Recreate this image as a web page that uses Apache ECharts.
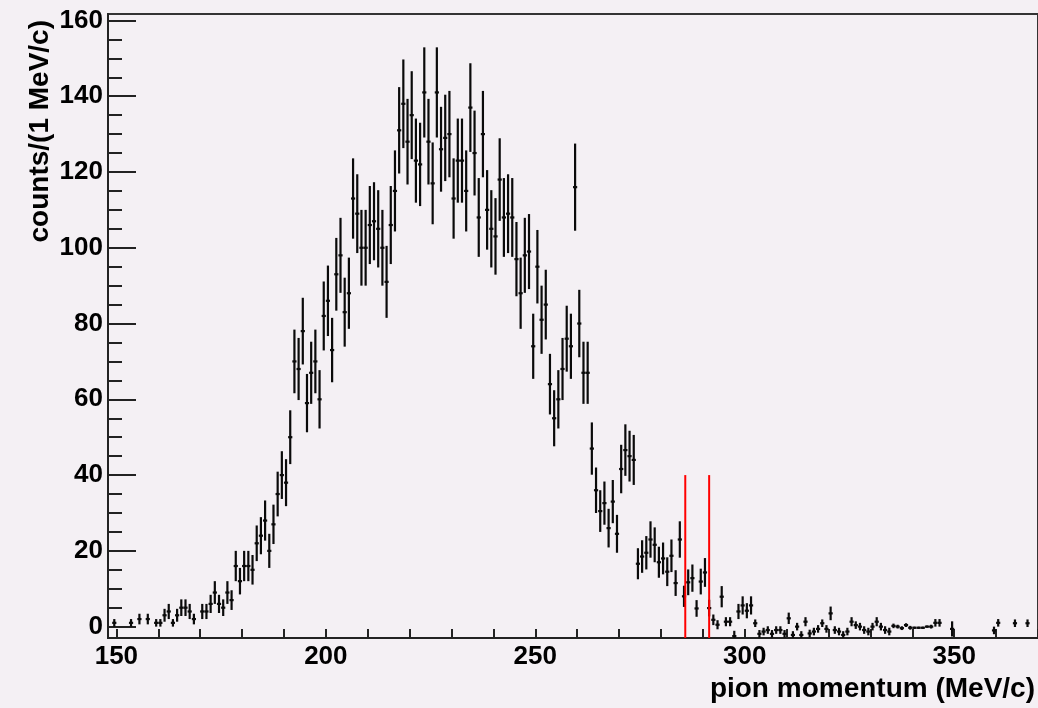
<!DOCTYPE html>
<html>
<head>
<meta charset="utf-8">
<script src="https://cdn.jsdelivr.net/npm/echarts@6/dist/echarts.min.js"></script>
<style>
  html, body { margin: 0; padding: 0; background: #f4f0f4; }
  #chart { width: 1038px; height: 708px; }
</style>
</head>
<body>
<div id="chart"></div>
<script>
// Pion momentum spectrum, 1 MeV/c bins (bin centres), counts and errors per bin
const momentum = [
  149.5, 153.5, 155.5, 157.5, 159.5, 160.5, 161.5, 162.5, 163.5, 164.5,
  165.5, 166.5, 167.5, 168.5, 170.5, 171.5, 172.5, 173.5, 174.5, 175.5,
  176.5, 177.5, 178.5, 179.5, 180.5, 181.5, 182.5, 183.5, 184.5, 185.5,
  186.5, 187.5, 188.5, 189.5, 190.5, 191.5, 192.5, 193.5, 194.5, 195.5,
  196.5, 197.5, 198.5, 199.5, 200.5, 201.5, 202.5, 203.5, 204.5, 205.5,
  206.5, 207.5, 208.5, 209.5, 210.5, 211.5, 212.5, 213.5, 214.5, 215.5,
  216.5, 217.5, 218.5, 219.5, 220.5, 221.5, 222.5, 223.5, 224.5, 225.5,
  226.5, 227.5, 228.5, 229.5, 230.5, 231.5, 232.5, 233.5, 234.5, 235.5,
  236.5, 237.5, 238.5, 239.5, 240.5, 241.5, 242.5, 243.5, 244.5, 245.5,
  246.5, 247.5, 248.5, 249.5, 250.5, 251.5, 252.5, 253.5, 254.5, 255.5,
  256.5, 257.5, 258.5, 259.5, 260.5, 261.5, 262.5, 263.5, 264.5, 265.5,
  266.5, 267.5, 268.5, 269.5, 270.5, 271.5, 272.5, 273.5, 274.5, 275.5,
  276.5, 277.5, 278.5, 279.5, 280.5, 281.5, 282.5, 283.5, 284.5, 285.5,
  286.5, 287.5, 288.5, 289.5, 290.5, 291.5, 292.5, 293.5, 294.5, 295.5,
  296.5, 297.5, 298.5, 299.5, 300.5, 301.5, 302.5, 303.5, 304.5, 305.5,
  306.5, 307.5, 308.5, 309.5, 310.5, 311.5, 312.5, 313.5, 314.5, 315.5,
  316.5, 317.5, 318.5, 319.5, 320.5, 321.5, 322.5, 323.5, 324.5, 325.5,
  326.5, 327.5, 328.5, 329.5, 330.5, 331.5, 332.5, 333.5, 334.5, 335.5,
  336.5, 337.5, 338.5, 339.5, 340.5, 341.5, 342.5, 343.5, 344.5, 345.5,
  346.5, 349.5, 359.5, 360.5, 364.5, 367.5
];

const counts = [
  1, 1, 2, 2, 1, 1, 3, 4, 1, 3,
  5, 5, 4, 2, 4, 4, 6, 9, 6, 5,
  9, 7, 16, 12, 16, 16, 15, 22, 24, 28,
  20, 27, 35, 40, 38, 50, 70, 68, 78, 59,
  67, 70, 60, 82, 86, 73, 93, 98, 83, 88,
  113, 109, 100, 100, 106, 107, 105, 100, 91, 106,
  115, 131, 138, 128, 135, 123, 122, 141, 128, 117,
  141, 126, 129, 130, 113, 123, 123, 115, 137, 125,
  108, 130, 110, 105, 103, 118, 108, 109, 108, 97,
  88, 98, 99, 74, 95, 81, 85, 64, 55, 60,
  68, 76, 74, 116, 80, 67, 67, 47, 36, 30.5,
  32.6, 26, 33, 24.5, 41.6, 46.6, 45, 44, 16.6, 18.5,
  19.5, 23, 21.6, 17, 18, 14.5, 18.7, 11.5, 23, 8,
  11.7, 12.8, 4.8, 11.9, 14.3, 4.9, 1.8, 0.5, 7.9, 1.3,
  1.3, -2.5, 4, 5.6, 4.2, 5.6, 0.9, -1.9, -1.3, -0.9,
  -1.9, -0.9, -0.9, -1.9, 2.2, -2.2, 0, -2.2, 1.3, -1.8,
  -1.3, -0.6, 0.9, -0.6, 3.5, -0.9, -1.3, -2.2, -1.3, 1.3,
  0.4, 0, -0.9, -1.3, 0, 1.3, 0, -0.9, -1.3, 0.2,
  0, -0.4, 0.4, -0.3, -0.3, -0.3, -0.3, 0, 0, 1,
  1, -0.6, -1, 1, 0.9, 0.9
];

const errors = [
  1, 1, 1.4, 1.4, 1, 1, 1.7, 2, 1, 1.7,
  2.2, 2.2, 2, 1.4, 2, 2, 2.4, 3, 2.4, 2.2,
  3, 2.6, 4, 3.5, 4, 4, 3.9, 4.7, 4.9, 5.3,
  4.5, 5.2, 5.9, 6.3, 6.2, 7.1, 8.4, 8.2, 8.8, 7.7,
  8.2, 8.4, 7.7, 9.1, 9.3, 8.5, 9.6, 9.9, 9.1, 9.4,
  10.6, 10.4, 10, 10, 10.3, 10.3, 10.2, 10, 9.5, 10.3,
  10.7, 11.4, 11.7, 11.3, 11.6, 11.1, 11, 11.9, 11.3, 10.8,
  11.9, 11.2, 11.4, 11.4, 10.6, 11.1, 11.1, 10.7, 11.7, 11.2,
  10.4, 11.4, 10.5, 10.2, 10.1, 10.9, 10.4, 10.4, 10.4, 9.8,
  9.4, 9.9, 9.9, 8.6, 9.7, 9, 9.2, 8, 7.4, 7.7,
  8.2, 8.7, 8.6, 11.5, 8.9, 8.2, 8.2, 6.9, 6, 5.5,
  5.7, 5.1, 5.7, 5, 6.4, 6.8, 6.7, 6.6, 4.1, 4.3,
  4.4, 4.8, 4.6, 4.1, 4.2, 3.8, 4.3, 3.4, 4.8, 2.8,
  3.4, 3.6, 2.2, 3.4, 3.8, 2.2, 1.4, 1.2, 2.8, 1.2,
  1.2, 1.4, 2, 2.4, 2, 2.4, 1, 1, 1, 1,
  1, 1, 1, 1, 1.5, 1, 1, 1, 1.2, 1,
  1, 1, 1, 1, 1.8, 1, 1, 1, 1, 1.2,
  1, 1, 1, 1, 1, 1.2, 1, 1, 1, 0.6,
  0.5, 0.5, 0.5, 0.5, 0.3, 0.3, 0.3, 0.3, 0.5, 1,
  1, 2, 1, 1, 1, 1
];

// Momentum cut window (vertical markers)
const cutLines = [285.8, 291.5];
const cutHeight = 40;

// Axis tick values
const xLabelValues = [150, 200, 250, 300, 350];
const xTickValues = [150, 160, 170, 180, 190, 200, 210, 220, 230, 240, 250, 260, 270, 280, 290, 300, 310, 320, 330, 340, 350, 360, 370];
const yLabelValues = [0, 20, 40, 60, 80, 100, 120, 140, 160];
const yMinorTickValues = [5, 10, 15, 25, 30, 35, 45, 50, 55, 65, 70, 75, 85, 90, 95, 105, 110, 115, 125, 130, 135, 145, 150, 155];

const X_MIN = 148, X_MAX = 370, Y_MIN = -3, Y_MAX = 161.7;
const BIN_HALF = 0.5;
const INK = '#0a0a0a';
const FONT = '"Liberation Sans", Arial, Helvetica, sans-serif';

const histData = momentum.map((m, i) => [m, counts[i], errors[i]]);
const cutData = cutLines.map(x => [x, cutHeight]);

const chart = echarts.init(document.getElementById('chart'), null, { renderer: 'canvas' });

chart.setOption({
  animation: false,
  backgroundColor: '#f4f0f4',
  grid: {
    left: 108, top: 14, width: 936, height: 624,
    show: true, borderColor: '#333333', borderWidth: 2, backgroundColor: 'transparent'
  },
  xAxis: {
    type: 'value', min: X_MIN, max: X_MAX,
    axisLine: { show: true, onZero: false, lineStyle: { color: '#222222', width: 2 } },
    axisTick: { show: true, inside: true, length: 9, customValues: xTickValues, lineStyle: { color: '#222222', width: 2 } },
    axisLabel: { customValues: xLabelValues, color: '#000', fontFamily: FONT, fontWeight: 'bold', fontSize: 26, margin: 6 },
    splitLine: { show: false }
  },
  yAxis: [
    {
      type: 'value', min: Y_MIN, max: Y_MAX,
      axisLine: { show: true, onZero: false, lineStyle: { color: '#222222', width: 2 } },
      axisTick: { show: true, inside: true, length: 28, customValues: yLabelValues, lineStyle: { color: '#222222', width: 2 } },
      axisLabel: { customValues: yLabelValues, color: '#000', fontFamily: FONT, fontWeight: 'bold', fontSize: 26, margin: 5 },
      splitLine: { show: false }
    },
    {
      type: 'value', min: Y_MIN, max: Y_MAX, position: 'left',
      axisLine: { show: false },
      axisTick: { show: true, inside: true, length: 14, customValues: yMinorTickValues, lineStyle: { color: '#222222', width: 2 } },
      axisLabel: { show: false },
      splitLine: { show: false }
    }
  ],
  graphic: [
    {
      type: 'text', x: 40, y: 20, rotation: Math.PI / 2,
      style: { text: 'counts/(1 MeV/c)', fill: '#000', font: 'bold 28px ' + FONT, textAlign: 'right', textVerticalAlign: 'middle' }
    },
    {
      type: 'text', x: 1035, y: 689,
      style: { text: 'pion momentum (MeV/c)', fill: '#000', font: 'bold 28px ' + FONT, textAlign: 'right', textVerticalAlign: 'middle' }
    }
  ],
  series: [
    {
      type: 'custom', name: 'counts', clip: true,
      data: histData,
      renderItem: function (params, api) {
        const c = api.value(0), v = api.value(1), e = api.value(2);
        const top = api.coord([c, v + e]);
        const bot = api.coord([c, v - e]);
        const l = api.coord([c - BIN_HALF, v]);
        const r = api.coord([c + BIN_HALF, v]);
        return {
          type: 'group',
          children: [
            { type: 'line', shape: { x1: top[0], y1: top[1], x2: bot[0], y2: bot[1] }, style: { stroke: INK, lineWidth: 2.2 } },
            { type: 'line', shape: { x1: l[0], y1: l[1], x2: r[0], y2: r[1] }, style: { stroke: INK, lineWidth: 2.2 } }
          ]
        };
      }
    },
    {
      type: 'custom', name: 'cut', clip: true,
      data: cutData,
      renderItem: function (params, api) {
        const x = api.value(0), h = api.value(1);
        const p1 = api.coord([x, Y_MIN]);
        const p2 = api.coord([x, h]);
        return { type: 'line', shape: { x1: p1[0], y1: p1[1], x2: p2[0], y2: p2[1] }, style: { stroke: '#ff0000', lineWidth: 2 } };
      }
    }
  ]
});
</script>
</body>
</html>
